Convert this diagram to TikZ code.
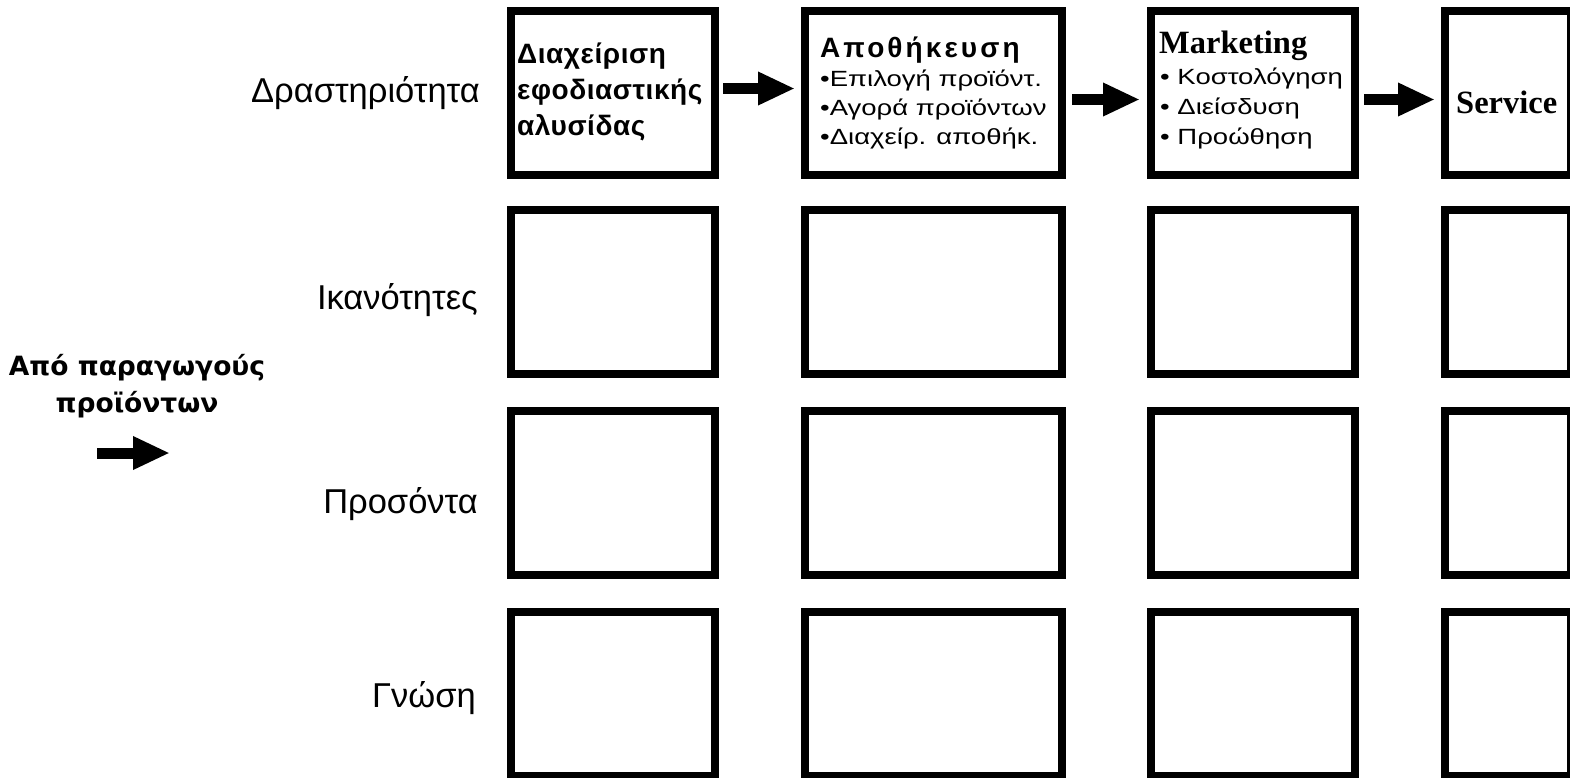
\documentclass[tikz,border=0pt]{standalone}
\usepackage{fontspec}
\setmainfont{Liberation Sans}
\newfontfamily\boxbold[LetterSpace=2]{Liberation Sans Bold}
\newfontfamily\storebold[LetterSpace=11]{Liberation Sans Bold}
\newfontfamily\itemfont[FakeStretch=1.25]{Liberation Sans}
\newfontfamily\srcfont{DejaVu Sans Bold}
\newfontfamily\titleserif{Liberation Serif Bold}
\usetikzlibrary{arrows.meta,positioning}

\tikzset{
  cell/.style={draw, line width=8pt, minimum height=164pt, inner sep=0pt},
  bigarrow/.style={line width=11pt, -{Triangle[length=37pt 0,width=31pt 0]}},
  rowlabel/.style={anchor=base east, inner sep=0pt, font=\fontsize{34.5}{38}\selectfont},
  boxtitle/.style={anchor=base west, inner sep=0pt, font=\boxbold\fontsize{28}{32}\selectfont},
  storetitle/.style={anchor=base west, inner sep=0pt, font=\storebold\fontsize{28}{32}\selectfont},
  boxitem/.style={anchor=base west, inner sep=0pt, font=\itemfont\fontsize{22}{24}\selectfont},
  serhead/.style={anchor=base west, inner sep=0pt, font=\titleserif\fontsize{32.5}{36}\selectfont}
}

\begin{document}
\begin{tikzpicture}[x=1pt,y=-1pt]
  \useasboundingbox (0,0) rectangle (1570,777);
  \clip (0,0) rectangle (1570,777);

  % Grid of boxes (column centre / width, row centre)
  \foreach \c/\cx/\w in {1/613/204, 2/933.5/257, 3/1253/204, 4/1508/126}
    \foreach \r/\cy in {1/92.5, 2/291.5, 3/493, 4/694}
      \node[cell, minimum width=\w pt] (b\r\c) at (\cx,\cy) {};

  % Row labels
  \node[rowlabel] (lact)  at (480,102) {Δραστηριότητα};
  \node[rowlabel] (lskill) at (478,309) {Ικανότητες};
  \node[rowlabel] (lqual) at (478,513) {Προσόντα};
  \node[rowlabel] (lknow) at (476,707) {Γνώση};

  % Source of the chain
  \node[align=center, inner sep=0pt, font=\srcfont\fontsize{26.5}{37}\selectfont]
    (lsrc) at (137,386) {Από παραγωγούς\\προϊόντων};
  \coordinate (srcin) at (97,453);
  \coordinate (srcout) at (170,453);
  \draw[bigarrow] (srcin) -- (srcout);

  % Box texts, first row
  \node[boxtitle] (t11) at (517,63) {Διαχείριση};
  \node[boxtitle] (t12) at (517,99) {εφοδιαστικής};
  \node[boxtitle] (t13) at (517,135) {αλυσίδας};

  \node[storetitle] (t21) at (820,57) {Αποθήκευση};
  \node[boxitem] (t22) at (820,86) {•Επιλογή προϊόντ.};
  \node[boxitem] (t23) at (820,115) {•Αγορά προϊόντων};
  \node[boxitem] (t24) at (820,144) {•Διαχείρ. αποθήκ.};

  \node[serhead] (t31) at (1159,53) {Marketing};
  \node[boxitem] (t32) at (1160,84) {• Κοστολόγηση};
  \node[boxitem] (t33) at (1160,114) {• Διείσδυση};
  \node[boxitem] (t34) at (1160,144) {• Προώθηση};

  \node[serhead] (t41) at (1456,113) {Service};

  % Arrows between activities
  \draw[bigarrow] ([xshift=4pt,yshift=4pt]b11.east) -- ([xshift=-6pt,yshift=4pt]b12.west);
  \draw[bigarrow] ([xshift=6pt,yshift=-7pt]b12.east) -- ([xshift=-7pt,yshift=-7pt]b13.west);
  \draw[bigarrow] ([xshift=5pt,yshift=-7pt]b13.east) -- ([xshift=-6pt,yshift=-7pt]b14.west);
\end{tikzpicture}
\end{document}
